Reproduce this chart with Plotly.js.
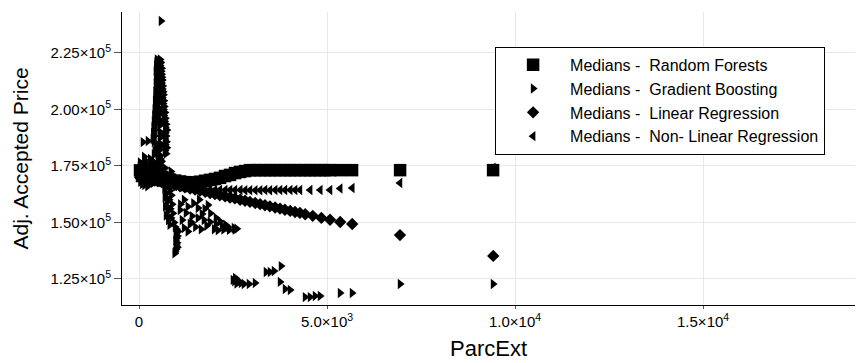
<!DOCTYPE html>
<html>
<head>
<meta charset="utf-8">
<script src="https://cdn.plot.ly/plotly-3.0.1.min.js"></script>
<style>html,body{margin:0;padding:0;background:#fff;}#chart{width:857px;height:363px;}</style>
</head>
<body>
<div id="chart"></div>
<script>
// ---- Data ----
const seriesNames = [
  "Medians -\u00a0 Random Forests",
  "Medians -\u00a0 Gradient Boosting",
  "Medians -\u00a0 Linear Regression",
  "Medians -\u00a0 Non- Linear Regression"
];

const rfX = [27, 80, 133, 186, 239, 293, 346, 426, 505, 612, 718, 824, 958, 1091, 1224, 1357, 1490, 1623, 1756, 1889, 2022, 2155, 2288, 2421, 2554, 2687, 2820, 2952, 3086, 3219, 3352, 3485, 3618, 3750, 3884, 4017, 4150, 4283, 4416, 4549, 4682, 4815, 4948, 5081, 5347, 5666, 6943, 9416];
const rfY = [173000, 170500, 174000, 170900, 173600, 171000, 173200, 171400, 170500, 170100, 169600, 168900, 168500, 168100, 167800, 167600, 167700, 168000, 168400, 168800, 169200, 169700, 170500, 171000, 171800, 172300, 172700, 173100, 173100, 173100, 173100, 173100, 173100, 173100, 173100, 173100, 173100, 173100, 173100, 173100, 173100, 173100, 173100, 173100, 173100, 173100, 173100, 173100];

const gbX = [
  // near origin cluster
  27, 80, 133, 186, 239, 293, 346, 426, 505, 612, 40, 60, 100, 150, 200, 260, 320, 380, 450, 520, 580, 650, 720, 800, 880, 950, 140, 300, 400, 600,
  30, 90, 160, 230, 350, 470, 560, 690, 760, 850,
  // outliers left of the spike and the top point
  106, 239, 585,
  // the spike (left edge, right edge, middle)
  480, 560, 470, 580, 460, 560, 480, 600, 450, 590, 470, 600, 460, 610, 480, 620, 450, 600, 470, 630, 460, 620, 440, 640, 470, 650, 450, 620, 430, 660, 460, 640, 440, 670, 420, 650, 450, 690, 410, 660, 440, 700, 400, 680, 430, 720, 390, 700, 420, 740, 380, 700, 410, 720, 370, 690, 400, 730, 450, 700, 480, 740, 420, 690, 500, 720,
  520, 540, 525, 540, 520, 545, 530, 550, 540, 555, 545, 550, 555, 560, 560, 565, 560, 570, 570, 575, 560, 580, 590, 580, 600, 570,
  // column and streak below the cluster
  700, 760, 680, 820, 720, 860, 690, 800, 740, 880, 700, 830, 760, 900, 720, 850, 780, 930, 820, 960, 1000, 1040, 980, 1020, 1000, 970, 1010, 990, 1020, 980, 960, 950,
  // diagonal arm
  1091, 1250, 1410, 1569, 1729, 1889, 2048, 2208, 2367, 2527, 1569, 1835, 1676, 1144, 1357,
  1100, 1200, 1300, 1450, 1600, 1750, 1900, 2050, 2150, 2300, 1200, 1300, 1400, 1500, 1650, 1800, 2000, 2100, 2250, 2400, 2550, 2600,
  // low cluster
  2500, 2580, 2633, 2713, 2793, 2926, 3086, 2540, 2600, 2560, 3378, 3485, 3591, 3777, 3751, 3884, 4017, 4416, 4549, 4682, 4815, 5347, 5666, 6943, 9416];
const gbY = [
  171500, 173000, 170500, 175000, 172500, 168500, 176500, 174000, 178000, 171000, 168000, 176000, 172500, 166500, 169000, 174500, 171000, 167500, 176000, 169500, 173500, 168000, 171500, 169000, 166500, 170000, 179000, 178000, 180000, 177000,
  176500, 167000, 177500, 166000, 175500, 172000, 168000, 174000, 166500, 172500,
  185500, 186000, 239000,
  222000, 222000, 220700, 220700, 219400, 219400, 218100, 218100, 216800, 216800, 215500, 215500, 214200, 214200, 212900, 212900, 211600, 211600, 210300, 210300, 209000, 209000, 207700, 207700, 206400, 206400, 205100, 205100, 203800, 203800, 202500, 202500, 201200, 201200, 199900, 199900, 198600, 198600, 197300, 197300, 196000, 196000, 194700, 194700, 193400, 193400, 192100, 192100, 190800, 190800, 189500, 189500, 188200, 188200, 186900, 186900, 185600, 185600, 184300, 184300, 183000, 183000, 181700, 181700, 180400, 180400,
  221300, 218800, 216200, 213500, 211000, 208400, 205800, 203100, 200500, 197900, 195400, 192800, 190100, 187500, 184900, 182300, 179500, 178000, 176500, 175000, 199000, 194000, 189000, 184000, 213000, 206000,
  167000, 166000, 165000, 164000, 163000, 162000, 161000, 160000, 159000, 158000, 157000, 156000, 155000, 154000, 153000, 152000, 151000, 150000, 149000, 148000, 147000, 146000, 145000, 144000, 143000, 142000, 141000, 140000, 139000, 138000, 137000, 136300,
  155500, 154200, 152800, 151900, 151100, 150200, 149300, 148400, 148000, 147500, 156400, 157700, 153700, 151100, 149300,
  158000, 160000, 157000, 158500, 160000, 156000, 154000, 152000, 150500, 149000, 147500, 146000, 150000, 148000, 147000, 148500, 147000, 146500, 146800, 146700, 146900, 147200,
  124600, 125000, 123700, 123200, 122800, 122800, 123200, 124000, 123000, 125500, 128100, 128100, 128500, 130700, 123700, 120600, 120100, 117000, 117000, 117500, 117500, 118800, 118800, 122800, 122800];

const lrX = [30, 80, 130, 190, 240, 290, 350, 420, 500, 600, 700, 820, 950, 1090, 1220, 1360, 1490, 1620, 1760, 1890, 2020, 2150, 2290, 2420, 2550, 2690, 2820, 2950, 3090, 3220, 3350, 3480, 3620, 3750, 3880, 4020, 4150, 4280, 4420, 4620, 4850, 5080, 5350, 5670, 6940, 9420];
const lrY = [169900, 169700, 169500, 169300, 169100, 168900, 168700, 168500, 168200, 167800, 167400, 167000, 166500, 166000, 165500, 165000, 164500, 164000, 163500, 163000, 162500, 162000, 161500, 161000, 160600, 160000, 159600, 159100, 158600, 158100, 157600, 157100, 156600, 156100, 155600, 155100, 154600, 154200, 153600, 152900, 152000, 151200, 150200, 149300, 144400, 135200];

const nlrX = [30, 80, 130, 190, 240, 290, 350, 420, 500, 600, 700, 820, 950, 1090, 1220, 1360, 1490, 1620, 1760, 1890, 2020, 2150, 2290, 2420, 2550, 2690, 2820, 2950, 3090, 3220, 3350, 3480, 3620, 3750, 3880, 4020, 4150, 4280, 4550, 4820, 5080, 5350, 5670, 6940, 9420];
const nlrY = [171000, 170500, 170200, 169800, 169500, 169000, 168600, 168200, 167800, 167300, 166900, 166500, 166100, 165700, 165400, 165100, 164900, 164700, 164600, 164500, 164400, 164400, 164300, 164300, 164300, 164300, 164200, 164200, 164200, 164200, 164300, 164200, 164300, 164300, 164300, 164300, 164300, 164300, 164300, 164300, 164300, 165000, 165200, 167400, 174200];

const xTickVals = [0, 5000, 10000, 15000];
const xTickText = ["0", "5.0×10<sup>3</sup>", "1.0×10<sup>4</sup>", "1.5×10<sup>4</sup>"];
const yTickVals = [125000, 150000, 175000, 200000, 225000];
const yTickText = ["1.25×10<sup>5</sup>", "1.50×10<sup>5</sup>", "1.75×10<sup>5</sup>", "2.00×10<sup>5</sup>", "2.25×10<sup>5</sup>"];

const xTitle = "ParcExt";
const yTitle = "Adj. Accepted Price";

// ---- Plot ----
const FONT = "Liberation Sans, Arial, Helvetica, sans-serif";
function mk(x, y, name, symbol, size) {
  return { type: "scatter", mode: "markers", x: x, y: y, name: name,
    marker: { symbol: symbol, size: size, color: "#000000", line: { width: 0 } }, cliponaxis: true };
}
const traces = [
  mk(rfX, rfY, seriesNames[0], "square", 12.5),
  mk(gbX, gbY, seriesNames[1], "triangle-right", 9),
  mk(lrX, lrY, seriesNames[2], "diamond", 9.5),
  mk(nlrX, nlrY, seriesNames[3], "triangle-left", 9)
];

const xRange = [-452, 19040];
const yRange = [113500, 243000];

const layout = {
  width: 857, height: 363,
  margin: { l: 122, r: 2, t: 12, b: 58 },
  paper_bgcolor: "#ffffff", plot_bgcolor: "#ffffff",
  font: { family: FONT, color: "#000000", size: 15 },
  showlegend: true,
  legend: {
    x: 0.509, y: 0.881, xanchor: "left", yanchor: "top",
    bgcolor: "#ffffff", bordercolor: "#000000", borderwidth: 1,
    font: { family: FONT, size: 16, color: "#000000" },
    itemwidth: 64, tracegroupgap: 0
  },
  xaxis: {
    range: xRange, tickmode: "array", tickvals: xTickVals, ticktext: xTickText,
    showgrid: true, gridcolor: "#e8e8e8", gridwidth: 1, zeroline: false,
    showline: true, linecolor: "#000000", linewidth: 1,
    ticks: "outside", ticklen: 3, tickcolor: "#555555",
    tickfont: { family: FONT, size: 15, color: "#000000" },
    title: { text: xTitle, font: { family: FONT, size: 22, color: "#000000" }, standoff: 11 },
    automargin: false
  },
  yaxis: {
    range: yRange, tickmode: "array", tickvals: yTickVals, ticktext: yTickText,
    showgrid: true, gridcolor: "#e8e8e8", gridwidth: 1, zeroline: false,
    showline: true, linecolor: "#000000", linewidth: 1,
    ticks: "outside", ticklen: 7, tickcolor: "#555555",
    tickfont: { family: FONT, size: 15, color: "#000000" },
    title: { text: yTitle, font: { family: FONT, size: 21, color: "#000000" }, standoff: 16 },
    automargin: false
  },
  xaxis2: {
    overlaying: "x", anchor: "y", side: "bottom", range: xRange,
    tickmode: "array", tickvals: xTickVals, showticklabels: false,
    showgrid: false, zeroline: false, showline: false,
    ticks: "inside", ticklen: 4, tickcolor: "#555555"
  },
  yaxis2: {
    overlaying: "y", anchor: "x", side: "left", range: yRange,
    tickmode: "array", tickvals: yTickVals, showticklabels: false,
    showgrid: false, zeroline: false, showline: false,
    ticks: "inside", ticklen: 10, tickcolor: "#555555"
  }
};

Plotly.newPlot("chart", traces, layout, { staticPlot: true, displayModeBar: false });
</script>
</body>
</html>
